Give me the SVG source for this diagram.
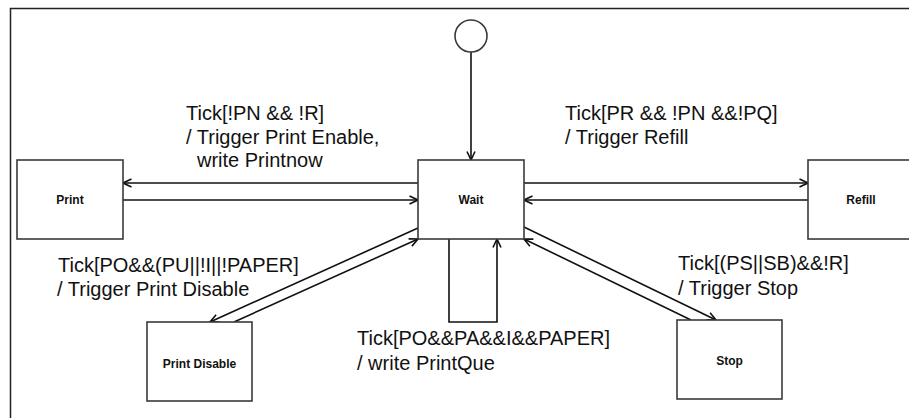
<svg xmlns="http://www.w3.org/2000/svg" width="909" height="418" viewBox="0 0 909 418">
<style>
.node{fill:#fff;stroke:#3a3a3a;stroke-width:1.6}
.nl{font-family:"Liberation Sans",Arial,sans-serif;font-weight:bold;font-size:12px;text-anchor:middle;fill:#111}
.lbl{font-family:"Liberation Sans",Arial,sans-serif;font-size:20px;fill:#111}
.c{fill:none;stroke:#111;stroke-width:1.6;marker-end:url(#a)}
</style>
<defs>
<marker id="a" viewBox="0 0 10 10" refX="9.5" refY="5" markerWidth="10" markerHeight="10" markerUnits="userSpaceOnUse" orient="auto">
<path d="M1,1 L9.5,5 L1,9" fill="none" stroke="#111" stroke-width="1.6"/>
</marker>
</defs>
<rect x="0" y="0" width="909" height="418" fill="#fff"/>
<rect x="10.5" y="8.5" width="1000" height="500" fill="none" stroke="#222" stroke-width="1.5"/>
<g id="connectors">
<path class="c" d="M471,52 V160"/>
<path class="c" d="M418,183 H123"/>
<path class="c" d="M123,200 H418"/>
<path class="c" d="M524,183 H808"/>
<path class="c" d="M808,200 H524"/>
<path class="c" d="M418,228 L210,322"/>
<path class="c" d="M234,322 L418,239"/>
<path class="c" d="M449,239 V322 H497 V239"/>
<path class="c" d="M524,227 L716,320"/>
<path class="c" d="M691,320 L524,239"/>
</g>
<g id="start"><circle cx="471" cy="36" r="16" fill="#fff" stroke="#3a3a3a" stroke-width="1.6"/></g>
<g id="wait"><rect class="node" x="418" y="160" width="106" height="79"/><text class="nl" x="471" y="204">Wait</text></g>
<g id="print"><rect class="node" x="17" y="160" width="106" height="79"/><text class="nl" x="70" y="204">Print</text></g>
<g id="refill"><rect class="node" x="808" y="160" width="106" height="79"/><text class="nl" x="861" y="204">Refill</text></g>
<g id="printdisable"><rect class="node" x="147" y="322" width="105" height="79"/><text class="nl" x="199.5" y="368">Print Disable</text></g>
<g id="stop"><rect class="node" x="677" y="320" width="105" height="79"/><text class="nl" x="729.5" y="365">Stop</text></g>
<g id="labels">
<text class="lbl" x="186" y="120">Tick[!PN &amp;&amp; !R]</text>
<text class="lbl" x="186" y="144">/ Trigger Print Enable,</text>
<text class="lbl" x="197" y="167">write Printnow</text>
<text class="lbl" x="565" y="120">Tick[PR &amp;&amp; !PN &amp;&amp;!PQ]</text>
<text class="lbl" x="565" y="144">/ Trigger Refill</text>
<text class="lbl" x="58" y="272">Tick[PO&amp;&amp;(PU||!I||!PAPER]</text>
<text class="lbl" x="57" y="296">/ Trigger Print Disable</text>
<text class="lbl" x="357" y="345">Tick[PO&amp;&amp;PA&amp;&amp;I&amp;&amp;PAPER]</text>
<text class="lbl" x="357" y="370">/ write PrintQue</text>
<text class="lbl" x="678" y="270">Tick[(PS||SB)&amp;&amp;!R]</text>
<text class="lbl" x="678" y="295">/ Trigger Stop</text>
</g>
</svg>
